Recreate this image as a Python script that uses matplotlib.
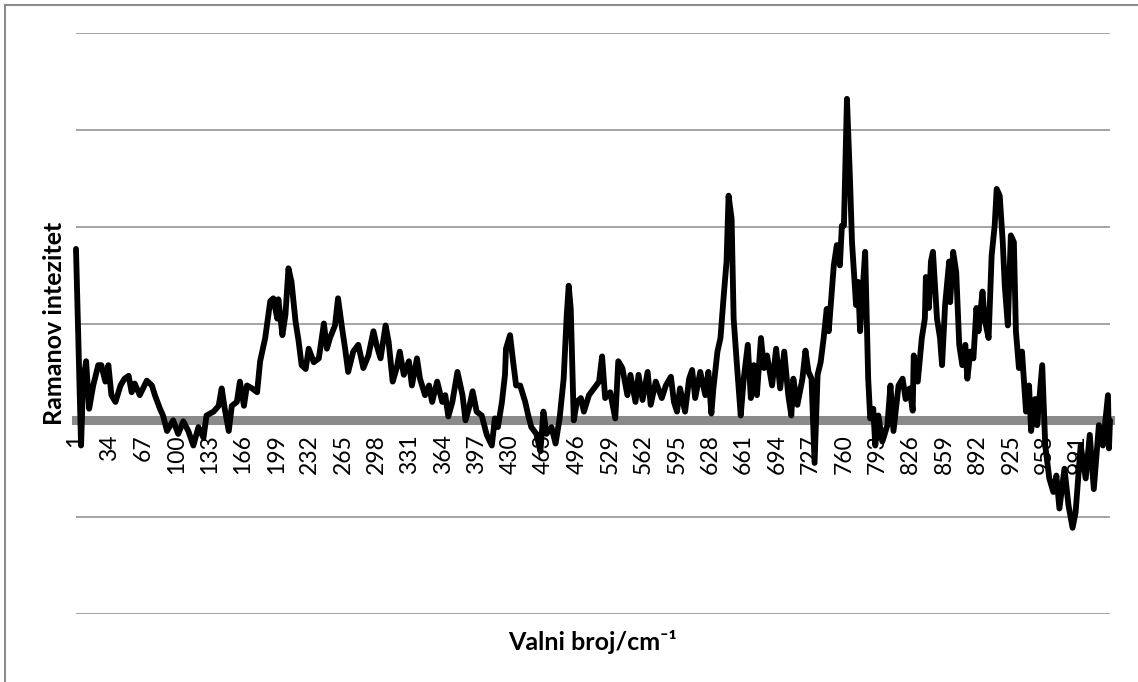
import matplotlib
matplotlib.use('Agg')
import matplotlib.pyplot as plt
from matplotlib.lines import Line2D

plt.rcParams['font.family'] = ['Lato', 'DejaVu Sans']

# category index (1..1023) and Raman intensity
n_points = 1023
idx = [1, 6, 8, 11, 14, 18, 23, 26, 30, 33, 36, 40, 45, 49, 53, 56, 59, 64, 71, 76,
       79, 84, 87, 91, 97, 102, 107, 112, 117, 122, 127, 130, 137, 142, 145, 148, 152, 155, 160, 163,
       167, 170, 175, 180, 183, 188, 193, 196, 200, 201, 205, 208, 211, 214, 218, 221, 224, 228, 231, 236,
       241, 246, 249, 252, 257, 260, 264, 267, 270, 275, 280,
       285, 290, 295, 298, 302, 307, 310, 314, 318, 321, 325, 330, 333, 338, 341, 346, 350, 353, 358, 363,
       366, 369, 373, 378, 383, 386, 390, 393, 397, 402, 407, 412, 415, 418, 422, 425, 426, 430, 433, 436,
       440, 445, 448, 451, 456, 460, 463, 466, 471, 475, 479, 483, 486, 488, 490, 493, 496, 500, 503, 508,
       513, 518, 521, 524, 529, 534, 537, 541, 546, 549, 554, 557,
       561, 566, 569, 574, 580, 584, 589, 592, 595, 598, 603, 607, 610, 613, 618, 623, 626, 629, 631, 635,
       638, 641, 644, 646, 649, 651, 654, 658, 661, 665, 668, 671, 674, 678, 681, 684, 689, 693, 697, 701,
       705, 708, 710, 714, 719, 722, 725, 728, 731, 734, 737, 740, 743, 745, 748, 750, 753, 756, 758, 760,
       763, 766, 768, 772, 774, 776, 778, 781, 784, 786, 789, 791, 794, 798,
       803, 806, 809, 814, 818, 821, 825, 828, 829, 833, 837, 840, 841, 844, 846, 848, 852, 855, 857, 860,
       864, 865, 868, 871, 874, 877, 880, 882, 885, 888, 891, 893, 897, 899, 903, 906, 909, 911, 914, 917,
       919, 922, 925, 928, 930, 933, 936, 940, 943, 945, 949, 951, 956, 959, 963, 967, 970, 973, 978, 982,
       986, 989, 994, 999, 1003, 1007, 1012, 1016, 1021, 1022, 1023]
intensity = [1.77, -0.26, 0.40, 0.61, 0.12, 0.36, 0.57, 0.57, 0.40, 0.57, 0.26, 0.19, 0.36, 0.43, 0.46, 0.29, 0.38, 0.26, 0.41, 0.36,
             0.26, 0.12, 0.05, -0.11, 0.0, -0.14, -0.01, -0.11, -0.26, -0.07, -0.18, 0.05, 0.09, 0.15, 0.33, 0.12, -0.11, 0.15, 0.19, 0.40,
             0.15, 0.36, 0.33, 0.29, 0.61, 0.85, 1.23, 1.26, 1.05, 1.25, 0.88, 1.09, 1.57, 1.43, 1.02, 0.82, 0.57, 0.53, 0.74, 0.60,
             0.64, 1.0, 0.74, 0.85, 0.98, 1.26, 0.95, 0.74, 0.50, 0.71, 0.78,
             0.54, 0.67, 0.92, 0.78, 0.64, 0.98, 0.81, 0.40, 0.54, 0.71, 0.47, 0.61, 0.36, 0.64, 0.43, 0.26, 0.36, 0.19, 0.40, 0.19,
             0.26, 0.04, 0.19, 0.50, 0.26, 0.0, 0.15, 0.30, 0.09, 0.05, -0.15, -0.26, 0.02, -0.07, 0.19, 0.47, 0.74, 0.88, 0.61, 0.36,
             0.36, 0.19, 0.05, -0.07, -0.14, -0.32, 0.09, -0.14, -0.07, -0.24, 0.02, 0.43, 1.08, 1.39, 1.15, 0.0, 0.19, 0.23, 0.09, 0.26,
             0.33, 0.40, 0.66, 0.23, 0.29, 0.02, 0.61, 0.54, 0.26, 0.47, 0.19, 0.47,
             0.21, 0.50, 0.16, 0.40, 0.23, 0.36, 0.45, 0.19, 0.09, 0.33, 0.09, 0.43, 0.52, 0.23, 0.50, 0.26, 0.50, 0.07, 0.33, 0.71,
             0.85, 1.26, 1.64, 2.32, 2.08, 1.05, 0.61, 0.05, 0.43, 0.78, 0.23, 0.57, 0.26, 0.85, 0.54, 0.67, 0.36, 0.74, 0.33, 0.71,
             0.26, 0.05, 0.43, 0.16, 0.43, 0.72, 0.50, 0.43, -0.44, 0.47, 0.60, 0.85, 1.15, 0.92, 1.33, 1.60, 1.81, 1.60, 2.01, 2.01,
             3.32, 2.49, 1.84, 1.19, 1.43, 0.92, 1.26, 1.74, 0.43, 0.02, 0.12, -0.26, 0.05, -0.22,
             -0.05, 0.36, -0.11, 0.36, 0.43, 0.22, 0.33, 0.10, 0.67, 0.40, 0.85, 1.05, 1.48, 1.16, 1.64, 1.74, 1.05, 0.85, 0.57, 1.19,
             1.64, 1.22, 1.74, 1.53, 0.78, 0.57, 0.78, 0.43, 0.71, 0.64, 1.16, 0.92, 1.33, 1.05, 0.85, 1.70, 2.01, 2.39, 2.32, 1.84,
             1.39, 0.98, 1.91, 1.84, 0.92, 0.54, 0.71, 0.09, 0.36, -0.11, 0.22, -0.05, 0.57, -0.26, -0.60, -0.74, -0.57, -0.91, -0.50, -0.88,
             -1.11, -0.95, -0.26, -0.60, -0.15, -0.71, -0.05, -0.26, 0.26, -0.29, 0.0]

tick_pos = list(range(1, n_points + 1, 33))
tick_labels = [str(t) for t in tick_pos]
grid_levels = [-2, -1, 0, 1, 2, 3, 4]

W, H = 1138, 682
fig = plt.figure(figsize=(W / 100, H / 100), dpi=100)
ax = fig.add_axes([76 / W, 1 - 614 / H, (1110 - 76) / W, (614 - 33) / H])

ax.plot(idx, intensity, color='black', lw=4.2, solid_joinstyle='round',
        solid_capstyle='round', zorder=3, clip_on=False)

ax.set_xlim(1, n_points)
ax.set_ylim(-2, 4)
ax.set_yticks(grid_levels)
ax.yaxis.grid(True, color='#8c8c8c', lw=1.1)
ax.set_axisbelow(True)
ax.tick_params(axis='y', length=0, labelleft=False)

ax.set_xticks(tick_pos)
ax.set_xticklabels(tick_labels)
ax.tick_params(axis='x', length=0, pad=10, colors='black', labelrotation=90, labelsize=16.5)

for s in ['left', 'right', 'top']:
    ax.spines[s].set_visible(False)
ax.spines['bottom'].set_position(('data', 0))
ax.spines['bottom'].set_color('#8a8a8a')
ax.spines['bottom'].set_linewidth(6.5)
ax.spines['bottom'].set_zorder(2.5)

fig.text(593 / W, 1 - 642 / H, 'Valni broj/cm\u207b\u00b9', ha='center', va='center',
         fontsize=18, fontweight='bold')
fig.text(55 / W, 1 - 323.5 / H, 'Ramanov intezitet', rotation=90, ha='center', va='center',
         fontsize=18, fontweight='bold')

# chart area border (only left and top edges are visible)
fig.add_artist(Line2D([5 / W, 5 / W], [0, 1 - 5 / H], transform=fig.transFigure, color='#8c8c8c', lw=1.5))
fig.add_artist(Line2D([5 / W, 1], [1 - 5 / H, 1 - 5 / H], transform=fig.transFigure, color='#8c8c8c', lw=1.5))

fig.savefig('out.png', dpi=100)
